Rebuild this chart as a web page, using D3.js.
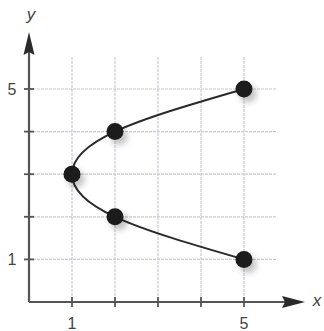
<!DOCTYPE html>
<html><head><meta charset="utf-8">
<script src="https://cdn.jsdelivr.net/npm/d3@7"></script>
<style>body{margin:0;background:#fff}svg{display:block}</style>
</head><body>
<svg id="c" width="324" height="331"></svg>
<script>
const xValues = [5, 2, 1, 2, 5];
const yValues = [1, 2, 3, 4, 5];
const gridTicks = [1, 2, 3, 4, 5];
const xTickLabels = [1, 5];
const yTickLabels = [1, 5];

const svg = d3.select("#c");
const x = d3.scaleLinear().domain([0, 5]).range([29, 244]);
const y = d3.scaleLinear().domain([0, 5]).range([302, 89]);
const gridTop = 57, gridRight = 277;

const defs = svg.append("defs");
const f = defs.append("filter").attr("id","sh").attr("x","-50%").attr("y","-50%").attr("width","250%").attr("height","250%");
f.append("feGaussianBlur").attr("in","SourceAlpha").attr("stdDeviation",3).attr("result","b");
f.append("feOffset").attr("in","b").attr("dx",4).attr("dy",5).attr("result","o");
f.append("feComponentTransfer").attr("in","o").attr("result","t").append("feFuncA").attr("type","linear").attr("slope",0.25);
const m = f.append("feMerge"); m.append("feMergeNode").attr("in","t"); m.append("feMergeNode").attr("in","SourceGraphic");

// grid
const g = svg.append("g").attr("stroke","#c9c9d2").attr("stroke-width",1.2).attr("stroke-dasharray","3,1");
g.selectAll(".v").data(gridTicks).join("line")
  .attr("x1",d=>x(d)).attr("x2",d=>x(d)).attr("y1",gridTop).attr("y2",y(0));
g.selectAll(".h").data(gridTicks).join("line")
  .attr("y1",d=>y(d)).attr("y2",d=>y(d)).attr("x1",x(0)).attr("x2",gridRight);

// axes
const ax = svg.append("g").attr("stroke","#555").attr("stroke-width",2.2);
ax.append("line").attr("x1",x(0)).attr("x2",290).attr("y1",y(0)).attr("y2",y(0));
ax.append("line").attr("x1",x(0)).attr("x2",x(0)).attr("y1",y(0)).attr("y2",48);
svg.append("path").attr("d",`M305,${y(0)} L282,${y(0)-6} L285,${y(0)} L282,${y(0)+6} Z`).attr("fill","#2a2a2a");
svg.append("path").attr("d",`M${x(0)},32 L${x(0)-5.5},55 L${x(0)},52 L${x(0)+5.5},55 Z`).attr("fill","#2a2a2a");
// ticks
ax.selectAll(".xt").data(gridTicks).join("line")
  .attr("x1",d=>x(d)).attr("x2",d=>x(d)).attr("y1",y(0)-5).attr("y2",y(0)+5).attr("stroke-width",1.8);
ax.selectAll(".yt").data(gridTicks).join("line")
  .attr("y1",d=>y(d)).attr("y2",d=>y(d)).attr("x1",x(0)-5).attr("x2",x(0)+5).attr("stroke-width",1.8);

// labels
const lab = svg.append("g").attr("font-family","Liberation Sans, Arial, sans-serif").attr("font-size",16).attr("fill","#444");
lab.selectAll(".xl").data(xTickLabels).join("text").attr("x",d=>x(d)).attr("y",329).attr("text-anchor","middle").text(d=>d);
lab.selectAll(".yl").data(yTickLabels).join("text").attr("x",12).attr("y",d=>y(d)+6).attr("text-anchor","middle").text(d=>d);
lab.append("text").attr("x",x(0)+2).attr("y",20).attr("text-anchor","middle").attr("font-style","italic").attr("font-size",17).text("y");
lab.append("text").attr("x",317).attr("y",306).attr("text-anchor","middle").attr("font-style","italic").attr("font-size",17).text("x");

// curve
const pts = yValues.map((v,i)=>[xValues[i], v]);
const line = d3.line().x(d=>x(d[0])).y(d=>y(d[1])).curve(d3.curveNatural);
svg.append("path").attr("d",line(pts)).attr("fill","none").attr("stroke","#2a2a2a").attr("stroke-width",2);

svg.selectAll(".pt").data(pts).join("circle")
  .attr("cx",d=>x(d[0])).attr("cy",d=>y(d[1])).attr("r",8.5).attr("fill","#1a1a1a").attr("filter","url(#sh)");
</script>
</body></html>
